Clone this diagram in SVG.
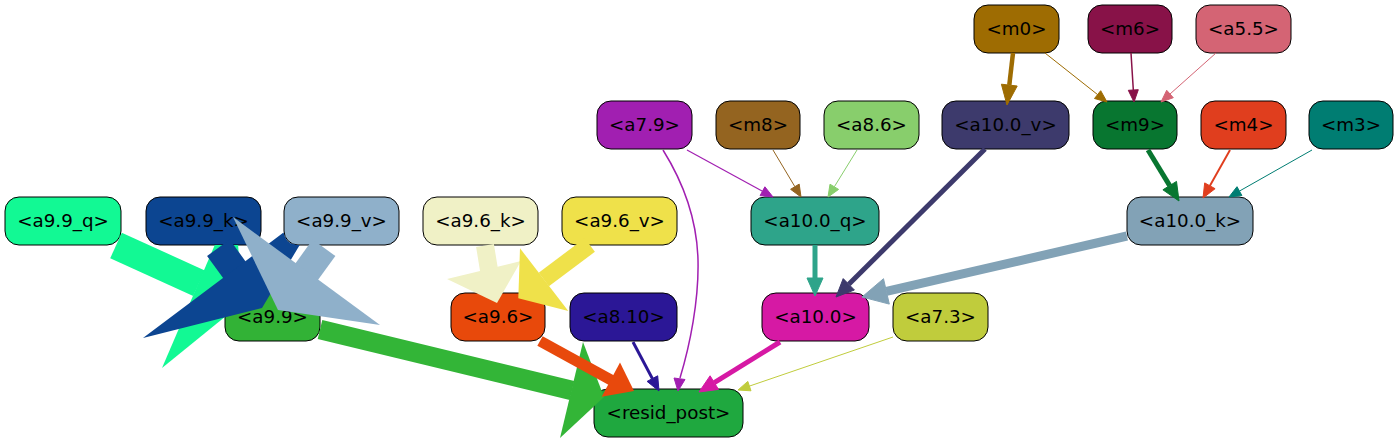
<svg xmlns="http://www.w3.org/2000/svg" width="1399" height="443" viewBox="0 0 1399 443">
<style>
.n rect{stroke:#000;stroke-width:1}
.n text{font-family:"DejaVu Sans","Liberation Sans",sans-serif;font-size:18.3px;text-anchor:middle;fill:#000}
.e line,.e path{fill:none}
</style>
<rect width="1399" height="443" fill="#fff"/>
<g id="nodes">
<g id="a9.9_q" class="n"><rect x="5" y="197" width="116" height="48" rx="14" fill="#12f994"/><text x="63" y="226.6">&lt;a9.9_q&gt;</text></g>
<g id="a9.9_k" class="n"><rect x="146" y="197" width="115" height="48" rx="14" fill="#0c4591"/><text x="203.5" y="226.6">&lt;a9.9_k&gt;</text></g>
<g id="a9.9_v" class="n"><rect x="284" y="197" width="115" height="48" rx="14" fill="#8fb0ca"/><text x="341.5" y="226.6">&lt;a9.9_v&gt;</text></g>
<g id="a9.6_k" class="n"><rect x="423" y="197" width="115" height="48" rx="14" fill="#f0f1c6"/><text x="480.5" y="226.6">&lt;a9.6_k&gt;</text></g>
<g id="a9.6_v" class="n"><rect x="562" y="197" width="115" height="48" rx="14" fill="#efe14a"/><text x="619.5" y="226.6">&lt;a9.6_v&gt;</text></g>
<g id="a7.9" class="n"><rect x="597" y="101" width="95" height="48" rx="14" fill="#a11fb1"/><text x="644.5" y="130.6">&lt;a7.9&gt;</text></g>
<g id="m8" class="n"><rect x="716" y="101" width="84" height="48" rx="14" fill="#946420"/><text x="758" y="130.6">&lt;m8&gt;</text></g>
<g id="a8.6" class="n"><rect x="824" y="101" width="95" height="48" rx="14" fill="#88ce6c"/><text x="871.5" y="130.6">&lt;a8.6&gt;</text></g>
<g id="a10.0_q" class="n"><rect x="751" y="197" width="128" height="48" rx="14" fill="#2ea48a"/><text x="815" y="226.6">&lt;a10.0_q&gt;</text></g>
<g id="a10.0_v" class="n"><rect x="942" y="101" width="127" height="48" rx="14" fill="#3d3a6c"/><text x="1005.5" y="130.6">&lt;a10.0_v&gt;</text></g>
<g id="m0" class="n"><rect x="974" y="5" width="85" height="48" rx="14" fill="#9e6c02"/><text x="1016.5" y="34.6">&lt;m0&gt;</text></g>
<g id="m6" class="n"><rect x="1088" y="5" width="84" height="48" rx="14" fill="#881248"/><text x="1130" y="34.6">&lt;m6&gt;</text></g>
<g id="a5.5" class="n"><rect x="1196" y="5" width="95" height="48" rx="14" fill="#d46474"/><text x="1243.5" y="34.6">&lt;a5.5&gt;</text></g>
<g id="m9" class="n"><rect x="1093" y="101" width="84" height="48" rx="14" fill="#087630"/><text x="1135" y="130.6">&lt;m9&gt;</text></g>
<g id="m4" class="n"><rect x="1201" y="101" width="85" height="48" rx="14" fill="#e03e1e"/><text x="1243.5" y="130.6">&lt;m4&gt;</text></g>
<g id="m3" class="n"><rect x="1309" y="101" width="84" height="48" rx="14" fill="#007d72"/><text x="1351" y="130.6">&lt;m3&gt;</text></g>
<g id="a10.0_k" class="n"><rect x="1127" y="197" width="126" height="48" rx="14" fill="#82a2b6"/><text x="1190" y="226.6">&lt;a10.0_k&gt;</text></g>
<g id="a10.0" class="n"><rect x="762" y="293" width="107" height="48" rx="14" fill="#d619a4"/><text x="815.5" y="322.6">&lt;a10.0&gt;</text></g>
<g id="a7.3" class="n"><rect x="893" y="293" width="95" height="48" rx="14" fill="#c0cc3c"/><text x="940.5" y="322.6">&lt;a7.3&gt;</text></g>
<g id="a9.9" class="n"><rect x="225" y="293" width="95" height="48" rx="14" fill="#32b236"/><text x="272.5" y="322.6">&lt;a9.9&gt;</text></g>
<g id="a9.6" class="n"><rect x="451" y="293" width="94" height="48" rx="14" fill="#e8490b"/><text x="498" y="322.6">&lt;a9.6&gt;</text></g>
<g id="a8.10" class="n"><rect x="570" y="293" width="107" height="48" rx="14" fill="#2b1796"/><text x="623.5" y="322.6">&lt;a8.10&gt;</text></g>
<g id="resid_post" class="n"><rect x="594" y="389" width="149" height="48" rx="14" fill="#1fa83f"/><text x="668.5" y="418.6">&lt;resid_post&gt;</text></g>
</g>
<g id="connectors" class="e">
<!-- a9.9_q -> a9.9 -->
<line x1="116" y1="245.5" x2="199" y2="283.2" stroke="#12f994" stroke-width="28"/>
<polygon points="162,368 214.8,245 238.1,245 242,303" fill="#12f994"/>
<!-- a9.9_k -> a9.9 -->
<line x1="218.4" y1="247.8" x2="234.8" y2="270.4" stroke="#0c4591" stroke-width="28"/>
<polygon points="143,338 283.5,232.6 285,237 287.6,241 291,243.6 297,245 299.7,245 262,308" fill="#0c4591"/>
<!-- a9.9_v -> a9.9 -->
<line x1="324" y1="247.7" x2="306.2" y2="272.4" stroke="#8fb0ca" stroke-width="28"/>
<polygon points="233,217 380,325 278,310" fill="#8fb0ca"/>
<!-- a9.9 -> resid_post -->
<line x1="320" y1="329.5" x2="572" y2="390.5" stroke="#33b537" stroke-width="19.5"/>
<polygon points="583,342 560,438 604,397" fill="#33b537"/>
<!-- a9.6_k -> a9.6 -->
<line x1="485" y1="245.5" x2="489" y2="270" stroke="#f0f1c6" stroke-width="18"/>
<polygon points="447,279 521,261 497,303" fill="#f0f1c6"/>
<!-- a9.6_v -> a9.6 -->
<line x1="589.8" y1="245" x2="543.8" y2="279.5" stroke="#efe14a" stroke-width="17"/>
<polygon points="520,248.3 568.3,311 518.3,298.3" fill="#efe14a"/>
<!-- a9.6 -> resid_post -->
<line x1="540" y1="341" x2="611.5" y2="380.3" stroke="#e8490c" stroke-width="11"/>
<polygon points="620,362.5 601.7,396.7 634,391" fill="#e8490c"/>
<!-- a8.10 -> resid_post -->
<line x1="633" y1="342" x2="652.4" y2="378.6" stroke="#2b1796" stroke-width="3"/>
<polygon points="647.1,381.4 657.7,375.8 659,391" fill="#2b1796" stroke="#2b1796"/>
<!-- a7.9 -> resid_post -->
<path d="M663,150 C683,182 697,220 698,260 C699,300 690,345 680,378" stroke="#a11fb1" stroke-width="1.5"/>
<polygon points="674,378 685,379.5 678,391" fill="#a11fb1" stroke="#a11fb1"/>
<!-- a7.9 -> a10.0_q -->
<line x1="687" y1="150" x2="762.5" y2="191.2" stroke="#a11fb1" stroke-width="1.2"/>
<polygon points="760.1,195.6 764.9,186.8 773,197" fill="#a11fb1" stroke="#a11fb1"/>
<!-- m8 -> a10.0_q -->
<line x1="773" y1="150" x2="794.9" y2="186.7" stroke="#946420" stroke-width="1"/>
<polygon points="790.6,189.3 799.2,184.1 801,197" fill="#946420" stroke="#946420"/>
<!-- a8.6 -> a10.0_q -->
<line x1="857" y1="150" x2="834.3" y2="186.8" stroke="#88ce6c" stroke-width="1"/>
<polygon points="830,184.2 838.6,189.4 828,197" fill="#88ce6c" stroke="#88ce6c"/>
<!-- a10.0_q -> a10.0 -->
<line x1="815" y1="245" x2="815" y2="279" stroke="#2ea48a" stroke-width="5"/>
<polygon points="807,278 823,278 815,296" fill="#2ea48a" stroke="#2ea48a"/>
<!-- a10.0_v -> a10.0 -->
<line x1="985" y1="149" x2="848.8" y2="284.3" stroke="#3d3a6c" stroke-width="5"/>
<polygon points="843.2,278.6 854.4,290 836,297" fill="#3d3a6c" stroke="#3d3a6c"/>
<!-- a10.0_k -> a10.0 -->
<line x1="1127" y1="236" x2="886.4" y2="291.4" stroke="#82a2b6" stroke-width="9"/>
<polygon points="883.5,278.7 889.3,304.1 862,297" fill="#82a2b6" stroke="#82a2b6"/>
<!-- a10.0 -> resid_post -->
<line x1="780" y1="342" x2="714.3" y2="382.6" stroke="#d619a4" stroke-width="5"/>
<polygon points="710.1,375.8 718.5,389.4 699,392" fill="#d619a4" stroke="#d619a4"/>
<!-- a7.3 -> resid_post -->
<line x1="893" y1="337" x2="749.4" y2="386.1" stroke="#c0cc3c" stroke-width="1"/>
<polygon points="747.8,381.4 751,390.8 738,390" fill="#c0cc3c" stroke="#c0cc3c"/>
<!-- m0 -> a10.0_v -->
<line x1="1013" y1="53" x2="1009.3" y2="85.1" stroke="#9e6c02" stroke-width="4.5"/>
<polygon points="1001.4,84.2 1017.2,86 1007,105" fill="#9e6c02" stroke="#9e6c02"/>
<!-- m0 -> m9 -->
<line x1="1045" y1="53" x2="1097.6" y2="94.6" stroke="#9e6c02" stroke-width="1"/>
<polygon points="1094.5,98.5 1100.7,90.7 1107,102" fill="#9e6c02" stroke="#9e6c02"/>
<!-- m6 -> m9 -->
<line x1="1131" y1="53" x2="1133.3" y2="90" stroke="#881248" stroke-width="1.5"/>
<polygon points="1128.3,90.3 1138.3,89.7 1134,102" fill="#881248" stroke="#881248"/>
<!-- a5.5 -> m9 -->
<line x1="1216" y1="53" x2="1170" y2="94" stroke="#d46474" stroke-width="1"/>
<polygon points="1166.7,90.3 1173.3,97.7 1161,102" fill="#d46474" stroke="#d46474"/>
<!-- m9 -> a10.0_k -->
<line x1="1148" y1="150" x2="1169.7" y2="185.6" stroke="#087630" stroke-width="5"/>
<polygon points="1162.9,189.8 1176.5,181.4 1179,201" fill="#087630" stroke="#087630"/>
<!-- m4 -> a10.0_k -->
<line x1="1230" y1="150" x2="1209.9" y2="185.8" stroke="#e03e1e" stroke-width="2"/>
<polygon points="1204.7,182.9 1215.1,188.7 1203,198" fill="#e03e1e" stroke="#e03e1e"/>
<!-- m3 -> a10.0_k -->
<line x1="1312" y1="150" x2="1239.4" y2="191.1" stroke="#007d72" stroke-width="1"/>
<polygon points="1237,186.7 1241.9,195.5 1229,197" fill="#007d72" stroke="#007d72"/>
</g>
</svg>
